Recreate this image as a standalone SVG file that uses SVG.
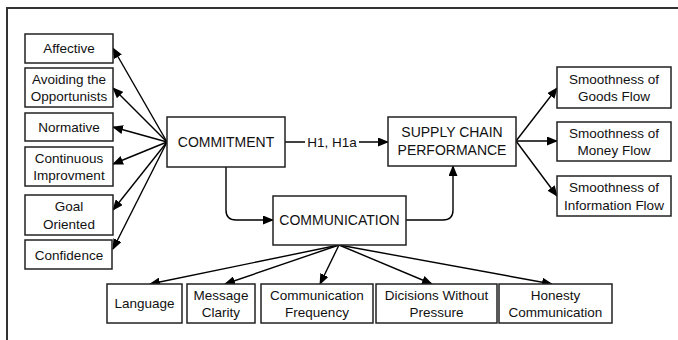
<svg xmlns="http://www.w3.org/2000/svg" width="678" height="340" viewBox="0 0 678 340">
<defs>
<marker id="ah" markerWidth="11" markerHeight="9" refX="10" refY="4.5" orient="auto" markerUnits="userSpaceOnUse">
<path d="M0,0 L11,4.5 L0,9 Z" fill="#000"/>
</marker>
<style>
.box{fill:#fff;stroke:#222;stroke-width:1.5}
.t{font-family:"Liberation Sans",Arial,sans-serif;font-size:13.5px;fill:#111;text-anchor:middle}
.tb{font-family:"Liberation Sans",Arial,sans-serif;font-size:14px;fill:#111;text-anchor:middle}
.c{fill:none;stroke:#000;stroke-width:1.4;marker-end:url(#ah)}
</style>
</defs>
<rect width="678" height="340" fill="#fff"/>
<path d="M7,345 V8 H685" fill="none" stroke="#333" stroke-width="2"/>

<g id="connectors">
<path class="c" d="M167,142 L113,48"/>
<path class="c" d="M167,142 L113,88"/>
<path class="c" d="M167,142 L113,127"/>
<path class="c" d="M167,142 L113,164"/>
<path class="c" d="M167,142 L113,210"/>
<path class="c" d="M167,142 L113,249"/>
<path class="c" d="M285,142 H388"/>
<path class="c" d="M226,167 V210 Q226,220 236,220 H273"/>
<path class="c" d="M406,220 H443 Q453,220 453,210 V166"/>
<path class="c" d="M516,141 L557,88"/>
<path class="c" d="M516,141 H557"/>
<path class="c" d="M516,141 L557,196"/>
<path class="c" d="M339,245 L150,284"/>
<path class="c" d="M339,245 L225,284"/>
<path class="c" d="M339,245 L320,284"/>
<path class="c" d="M339,245 L432,284"/>
<path class="c" d="M339,245 L552,284"/>
<rect x="305" y="133" width="54" height="18" fill="#fff"/>
<text class="t" x="332" y="147">H1, H1a</text>
</g>

<g id="affective"><rect class="box" x="25" y="34" width="88" height="29"/><text class="t" x="69" y="53">Affective</text></g>
<g id="avoiding"><rect class="box" x="25" y="68" width="88" height="39"/><text class="t" x="69" y="84">Avoiding the</text><text class="t" x="69" y="101">Opportunists</text></g>
<g id="normative"><rect class="box" x="25" y="113" width="88" height="28"/><text class="t" x="69" y="132">Normative</text></g>
<g id="continuous"><rect class="box" x="25" y="147" width="88" height="39"/><text class="t" x="69" y="163">Continuous</text><text class="t" x="69" y="180">Improvment</text></g>
<g id="goal"><rect class="box" x="25" y="195" width="88" height="40"/><text class="t" x="69" y="211">Goal</text><text class="t" x="69" y="229">Oriented</text></g>
<g id="confidence"><rect class="box" x="25" y="240" width="87" height="29"/><text class="t" x="69" y="260">Confidence</text></g>

<g id="commitment"><rect class="box" x="167" y="117" width="118" height="50"/><text class="tb" x="226" y="147">COMMITMENT</text></g>
<g id="supply"><rect class="box" x="388" y="117" width="128" height="49"/><text class="tb" x="452" y="137">SUPPLY CHAIN</text><text class="tb" x="452" y="155">PERFORMANCE</text></g>
<g id="communication"><rect class="box" x="273" y="196" width="133" height="49"/><text class="tb" x="339.5" y="225">COMMUNICATION</text></g>

<g id="goods"><rect class="box" x="557" y="67" width="114" height="41"/><text class="t" x="614" y="84">Smoothness of</text><text class="t" x="614" y="101">Goods Flow</text></g>
<g id="money"><rect class="box" x="557" y="122" width="114" height="39"/><text class="t" x="614" y="138">Smoothness of</text><text class="t" x="614" y="155">Money Flow</text></g>
<g id="information"><rect class="box" x="557" y="176" width="114" height="40"/><text class="t" x="614" y="192">Smoothness of</text><text class="t" x="614" y="210">Information Flow</text></g>

<g id="language"><rect class="box" x="107" y="284" width="75" height="39"/><text class="t" x="144.5" y="308">Language</text></g>
<g id="clarity"><rect class="box" x="187" y="284" width="68" height="39"/><text class="t" x="221" y="300">Message</text><text class="t" x="221" y="317">Clarity</text></g>
<g id="frequency"><rect class="box" x="261" y="284" width="112" height="39"/><text class="t" x="317" y="300">Communication</text><text class="t" x="317" y="317">Frequency</text></g>
<g id="decisions"><rect class="box" x="376" y="284" width="121" height="39"/><text class="t" x="436.5" y="300">Dicisions Without</text><text class="t" x="436.5" y="317">Pressure</text></g>
<g id="honesty"><rect class="box" x="499" y="284" width="113" height="39"/><text class="t" x="555.5" y="300">Honesty</text><text class="t" x="555.5" y="317">Communication</text></g>
</svg>
